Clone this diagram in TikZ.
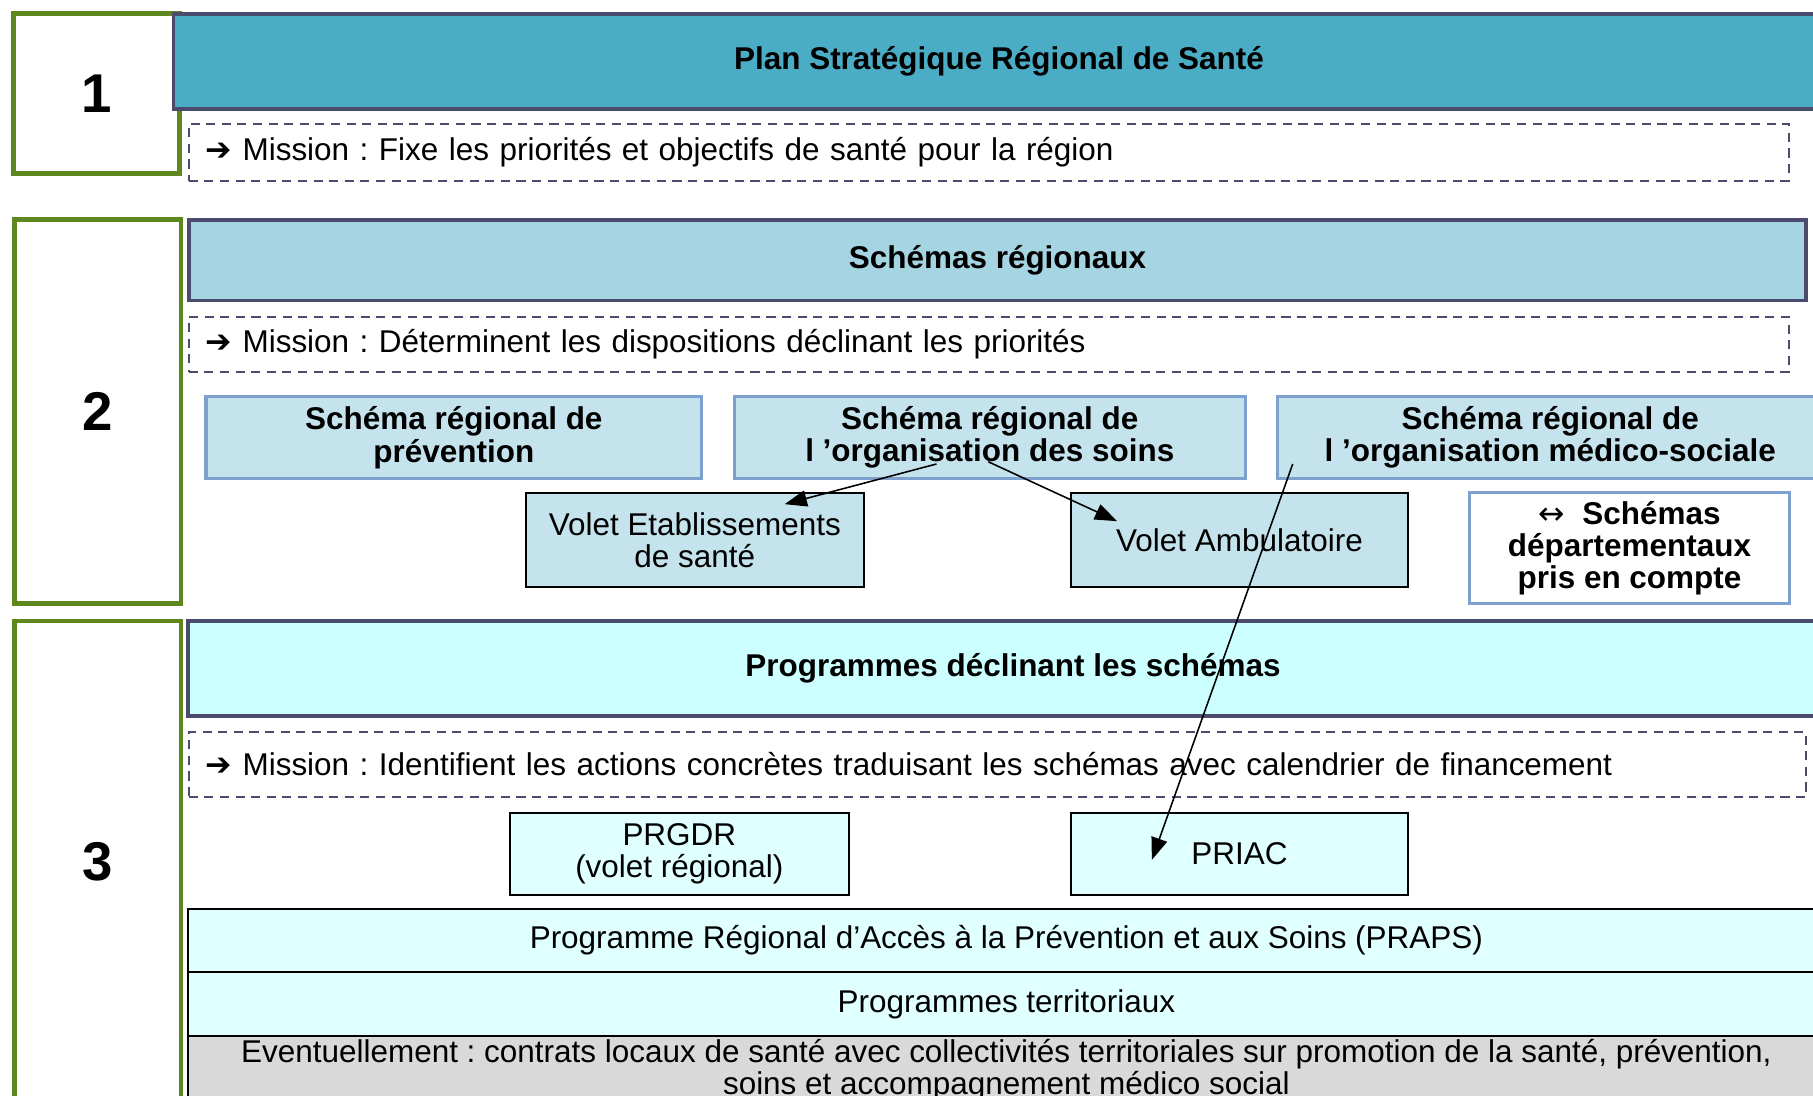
\documentclass[tikz,border=0pt]{standalone}
\usepackage{fontspec}
\setmainfont{Liberation Sans}
\newfontfamily\symbfont{DejaVu Sans}
\usetikzlibrary{arrows.meta,calc}
\definecolor{levelgreen}{RGB}{94,135,30}
\definecolor{slateline}{RGB}{75,75,110}
\definecolor{tealhead}{RGB}{75,172,198}
\definecolor{paleteal}{RGB}{165,213,226}
\definecolor{schemafill}{RGB}{197,227,236}
\definecolor{schemaline}{RGB}{126,160,205}
\definecolor{cyanhead}{RGB}{204,255,255}
\definecolor{cyanpale}{RGB}{224,255,255}
\definecolor{greyband}{RGB}{217,217,217}
\frenchspacing

\begin{document}
\begin{tikzpicture}[font=\fontsize{12.1}{12.4}\selectfont,
 level/.style={draw=levelgreen,line width=1.8pt,fill=white,minimum width=2.25cm,font=\fontsize{21}{24}\selectfont\bfseries},
 head/.style={draw=slateline,line width=1.5pt,font=\fontsize{12.1}{12.4}\selectfont\bfseries},
 mission/.style={draw=slateline,dash pattern=on 3.5pt off 2.5pt,line width=0.8pt,align=left,inner xsep=0.23cm},
 schema/.style={draw=schemaline,line width=1.2pt,fill=schemafill,align=center,minimum height=1.11cm,font=\fontsize{12.1}{12.4}\selectfont\bfseries},
 volet/.style={draw,line width=0.8pt,align=center},
 band/.style={draw,line width=0.8pt,minimum width=22.11cm,align=center},
 arr/.style={-{Triangle[length=3mm,width=2.2mm]},line width=0.6pt}]
\useasboundingbox (0,0) rectangle (24.5,-14.81);
\node[level,minimum height=2.16cm] (lvlone) at (1.305,-1.266) {1};
\node[level,minimum height=5.19cm] (lvltwo) at (1.32,-5.56) {2};
\node[level,minimum height=6.5cm] (lvlthree) at (1.32,-11.64) {3};
\node[head,fill=tealhead,minimum width=22.31cm,minimum height=1.28cm] (plan) at (13.50,-0.828) {Plan Stratégique Régional de Santé};
\node[mission,text width=21.16cm,minimum height=0.77cm] (missionone) at (13.36,-2.055) {{\symbfont\bfseries ➔} Mission : Fixe les priorités et objectifs de santé pour la région};
\node[head,fill=paleteal,minimum width=21.86cm,minimum height=1.09cm] (schemas) at (13.48,-3.516) {Schémas régionaux};
\node[mission,text width=21.16cm,minimum height=0.75cm] (missiontwo) at (13.36,-4.656) {{\symbfont\bfseries ➔} Mission : Déterminent les dispositions déclinant les priorités};
\node[schema,minimum width=6.70cm] (prev) at (6.133,-5.914) {Schéma régional de\\prévention};
\node[schema,minimum width=6.91cm] (soins) at (13.375,-5.914) {Schéma régional de\\l ’organisation des soins};
\node[schema,minimum width=7.38cm] (medsoc) at (20.95,-5.914) {Schéma régional de\\l ’organisation médico-sociale};
\node[volet,fill=schemafill,minimum width=4.56cm,minimum height=1.28cm] (etab) at (9.39,-7.297) {Volet Etablissements\\de santé};
\node[volet,fill=schemafill,minimum width=4.56cm,minimum height=1.28cm] (ambu) at (16.75,-7.297) {Volet Ambulatoire};
\node[schema,fill=white,minimum width=4.33cm,minimum height=1.5cm] (dept) at (22.02,-7.406) {{\symbfont\mdseries ↔}\ \ Schémas\\départementaux\\pris en compte};
\node[head,fill=cyanhead,minimum width=22.30cm,minimum height=1.28cm] (prog) at (13.69,-9.03) {Programmes déclinant les schémas};
\node[mission,text width=21.4cm,minimum height=0.875cm] (missionthree) at (13.48,-10.33) {{\symbfont\bfseries ➔} Mission : Identifient les actions concrètes traduisant les schémas avec calendrier de financement};
\node[volet,fill=cyanpale,minimum width=4.58cm,minimum height=1.11cm] (prgdr) at (9.18,-11.54) {PRGDR\\(volet régional)};
\node[volet,fill=cyanpale,minimum width=4.56cm,minimum height=1.11cm] (priac) at (16.75,-11.54) {PRIAC};
\node[band,fill=cyanpale,minimum height=0.86cm] (praps) at (13.60,-12.71) {Programme Régional d’Accès à la Prévention et aux Soins (PRAPS)};
\node[band,fill=cyanpale,minimum height=0.86cm] (territ) at (13.60,-13.57) {Programmes territoriaux};
\node[band,fill=greyband,minimum height=0.92cm,inner ysep=0pt] (eventuel) at (13.60,-14.46) {Eventuellement : contrats locaux de santé avec collectivités territoriales sur promotion de la santé, prévention,\\soins et accompagnement médico social};
\draw[arr] ($(soins.south)+(-0.72,0.22)$) -- ($(etab.north east)+(-1.08,-0.17)$);
\draw[arr] ($(soins.south)+(-0.02,0.25)$) -- ($(ambu.north west)+(0.64,-0.40)$);
\draw[arr] ($(medsoc.south west)+(0.23,0.22)$) -- ($(priac.west)+(1.11,-0.08)$);
\end{tikzpicture}
\end{document}
